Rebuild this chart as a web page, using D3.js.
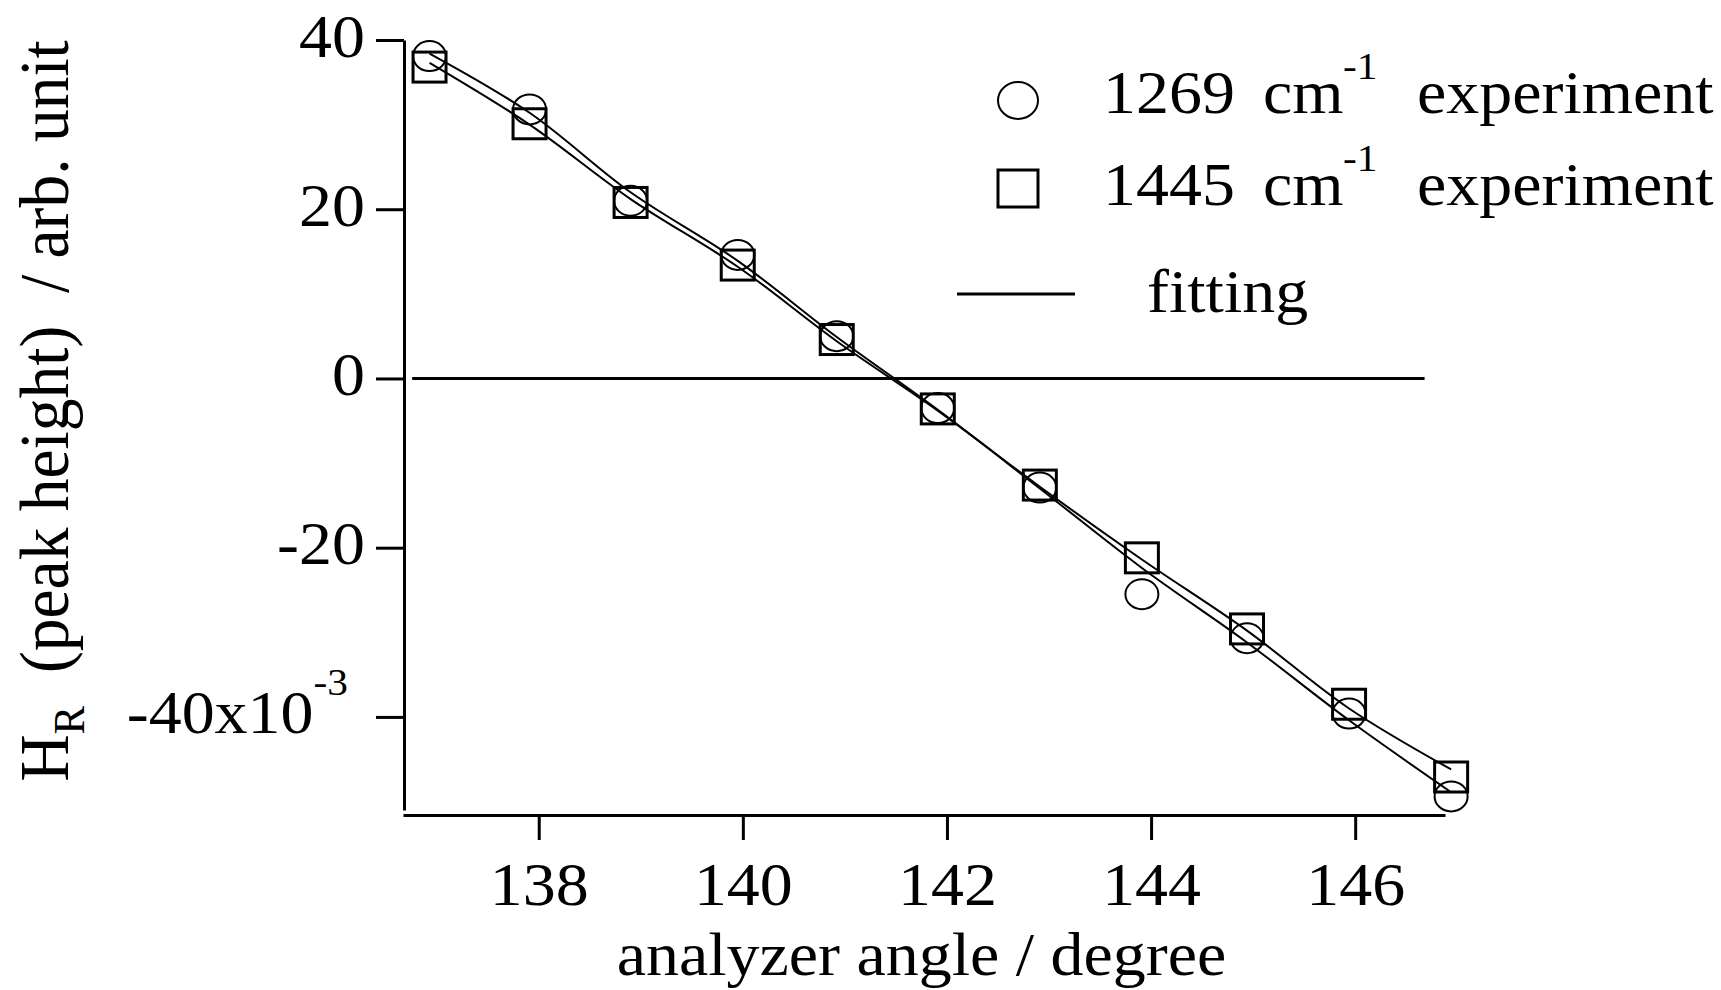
<!DOCTYPE html>
<html>
<head>
<meta charset="utf-8">
<script src="https://cdn.jsdelivr.net/npm/d3@7.9.0/dist/d3.min.js"></script>
<style>
  html, body { margin: 0; padding: 0; background: #fff; }
  svg { display: block; }
  text { font-family: "Liberation Serif", "Times New Roman", serif; fill: #000; white-space: pre; }
</style>
</head>
<body>
<svg id="chart" width="1721" height="990"></svg>
<script>
// analyzer angle of each measurement (degree)
const angles = [136.93, 137.91, 138.90, 139.95, 140.92, 141.91, 142.91, 143.91, 144.94, 145.94, 146.94];
// H_R peak height, x10^-3
const exp1269 = [38.1, 31.8, 21.0, 14.6, 5.0, -3.5, -12.9, -25.5, -30.7, -39.6, -49.4];
const exp1445 = [36.8, 30.1, 20.8, 13.4, 4.6, -3.6, -12.6, -21.2, -29.6, -38.5, -47.1];
const fit1269 = [38.4, 31.4, 22.0, 13.9, 4.9, -3.7, -13.0, -22.4, -31.2, -40.4, -48.9];
const fit1445 = [37.3, 30.0, 21.2, 13.2, 4.4, -3.8, -12.8, -21.4, -29.8, -39.0, -46.2];
const xTicks = [138, 140, 142, 144, 146];
const yTicks = [-40, -20, 0, 20, 40];
const zeroLine = [136.76, 146.68];

const SX = 1.09; // the original picture is a bit stretched sideways
const FS = 60.5;

const svg = d3.select('#chart');
const x = d3.scaleLinear().domain([136.67, 146.88]).range([403, 1445]);
const y = d3.scaleLinear().domain([-51, 40]).range([810, 40]);

// helper for horizontal text with the stretch
function label(parent, px, py, str, size, anchor) {
  return parent.append('text')
    .attr('transform', `translate(${px},${py}) scale(${SX},1)`)
    .attr('text-anchor', anchor || 'start')
    .style('font-size', size + 'px')
    .text(str);
}

// y axis
const yAxis = svg.append('g')
  .attr('transform', 'translate(404,0)')
  .call(d3.axisLeft(y).tickValues(yTicks).tickSize(28).tickSizeOuter(0)
    .tickFormat(d => d === -40 ? '-40x10' : String(d)));
yAxis.selectAll('path, line').attr('stroke', '#000').attr('stroke-width', 3);
yAxis.selectAll('text')
  .attr('x', d => (d === -40 ? -56 : -39) / SX)
  .attr('dy', null)
  .attr('y', 16)
  .attr('transform', `scale(${SX},1)`)
  .style('font-size', FS + 'px')
  .filter(d => d === -40)
  .append('tspan')
  .attr('dy', -38)
  .style('font-size', '38px')
  .text('-3');

// x axis
const xAxis = svg.append('g')
  .attr('transform', 'translate(0,815)')
  .call(d3.axisBottom(x).tickValues(xTicks).tickSize(25).tickSizeOuter(0).tickFormat(d => String(d)));
xAxis.selectAll('path, line').attr('stroke', '#000').attr('stroke-width', 3);
xAxis.selectAll('text')
  .attr('dy', null)
  .attr('y', 90)
  .attr('transform', `scale(${SX},1)`)
  .style('font-size', FS + 'px');

// axis titles
label(svg, 921.5, 975, 'analyzer angle / degree', FS, 'middle');

const yTitle = svg.append('text')
  .attr('transform', 'translate(68,411) rotate(-90) scale(1,1.05)')
  .attr('text-anchor', 'middle')
  .style('font-size', '65.5px');
yTitle.append('tspan').text('H');
yTitle.append('tspan').attr('dy', 15).style('font-size', '43px').text('R');
yTitle.append('tspan').attr('dy', -15).text('  (peak height)  / arb. unit');

// zero line
svg.append('line')
  .attr('x1', x(zeroLine[0])).attr('x2', x(zeroLine[1]))
  .attr('y1', y(0)).attr('y2', y(0))
  .attr('stroke', '#000').attr('stroke-width', 3);

// fitting curves
const fitLine = d3.line()
  .x((d, i) => x(angles[i]))
  .y(d => y(d))
  .curve(d3.curveCatmullRom);

[fit1269, fit1445].forEach(f => {
  svg.append('path')
    .attr('d', fitLine(f))
    .attr('fill', 'none')
    .attr('stroke', '#000')
    .attr('stroke-width', 2);
});

// experiment markers
svg.append('g').selectAll('ellipse')
  .data(exp1269)
  .join('ellipse')
  .attr('cx', (d, i) => x(angles[i]))
  .attr('cy', d => y(d))
  .attr('rx', 16.5).attr('ry', 15)
  .attr('fill', 'none').attr('stroke', '#000').attr('stroke-width', 2);

svg.append('g').selectAll('rect')
  .data(exp1445)
  .join('rect')
  .attr('x', (d, i) => x(angles[i]) - 16.5)
  .attr('y', d => y(d) - 15)
  .attr('width', 33).attr('height', 30)
  .attr('fill', 'none').attr('stroke', '#000').attr('stroke-width', 3);

// legend
const legend = svg.append('g');
legend.append('ellipse')
  .attr('cx', 1018).attr('cy', 100.5).attr('rx', 20).attr('ry', 18.5)
  .attr('fill', 'none').attr('stroke', '#000').attr('stroke-width', 2);
legend.append('rect')
  .attr('x', 998).attr('y', 170).attr('width', 40).attr('height', 37)
  .attr('fill', 'none').attr('stroke', '#000').attr('stroke-width', 3);
legend.append('line')
  .attr('x1', 957).attr('x2', 1075).attr('y1', 294).attr('y2', 294)
  .attr('stroke', '#000').attr('stroke-width', 3);

const rows = [['1269', 113.3], ['1445', 205]];
rows.forEach(([wn, by]) => {
  label(legend, 1103, by, wn, FS);
  label(legend, 1263, by, 'cm', FS);
  label(legend, 1343, by - 34, '-1', 38);
  label(legend, 1417, by, 'experiment', FS);
});
label(legend, 1147, 311.7, 'fitting', FS);
</script>
</body>
</html>
